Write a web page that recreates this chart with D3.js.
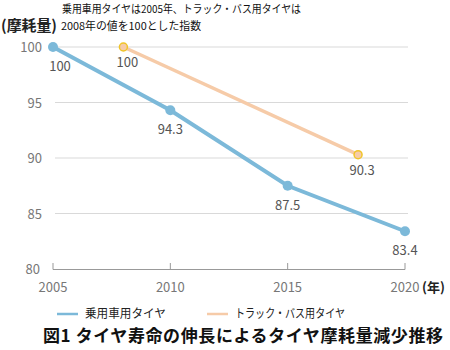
<!DOCTYPE html>
<html><head><meta charset="utf-8">
<script src="https://cdn.jsdelivr.net/npm/d3@7"></script>
<style>body{margin:0;background:#fff;} text{font-family:"Noto Sans CJK JP","Noto Sans",sans-serif;}</style>
</head><body>
<svg id="c" width="450" height="350"></svg>
<script>
const carYears = [2005, 2010, 2015, 2020];
const carValues = [100, 94.3, 87.5, 83.4];
const truckYears = [2008, 2018];
const truckValues = [100, 90.3];
const yTicks = [80, 85, 90, 95, 100];
const xTicks = [2005, 2010, 2015, 2020];
const seriesNames = ["乗用車用タイヤ", "トラック・バス用タイヤ"];

const svg = d3.select("#c");
const x = d3.scaleLinear().domain([2005, 2020]).range([53, 405]);
const y = d3.scaleLinear().domain([80, 100]).range([269, 47]);

// gridlines
svg.append("g").selectAll("line").data(yTicks.filter(d => d > 80)).join("line")
  .attr("x1", 55).attr("x2", 408).attr("y1", d => y(d)).attr("y2", d => y(d))
  .attr("stroke", "#d9d9d9").attr("stroke-width", 1);
// y labels
svg.append("g").selectAll("text").data(yTicks).join("text")
  .attr("x", d => d === 80 ? 40 : 42).attr("y", d => y(d) + 5).attr("text-anchor", "end")
  .attr("font-size", 13).attr("fill", "#777").attr("font-family", "Open Sans, sans-serif")
  .text(d => d);
// x axis
svg.append("line").attr("x1", x(2005)).attr("x2", x(2020)).attr("y1", 269.5).attr("y2", 269.5)
  .attr("stroke", "#999").attr("stroke-width", 1);
svg.append("g").selectAll("line").data(xTicks).join("line")
  .attr("x1", d => x(d)).attr("x2", d => x(d)).attr("y1", 263).attr("y2", 269.5)
  .attr("stroke", "#999");
svg.append("g").selectAll("text").data(xTicks).join("text")
  .attr("x", d => x(d)).attr("y", 292).attr("text-anchor", "middle")
  .attr("font-size", 13).attr("fill", "#777").attr("font-family", "Open Sans, sans-serif")
  .text(d => d);
svg.append("text").attr("x", 422).attr("y", 292).attr("font-size", 13).attr("fill", "#222")
  .attr("font-weight", "bold").text("(年)");

const line = d3.line().x(d => x(d[0])).y(d => y(d[1]));
const car = carYears.map((d, i) => [d, carValues[i]]);
const truck = truckYears.map((d, i) => [d, truckValues[i]]);

svg.append("path").datum(truck).attr("d", line).attr("fill", "none")
  .attr("stroke", "#f6cba8").attr("stroke-width", 3.5);
svg.append("g").selectAll("circle").data(truck).join("circle")
  .attr("cx", d => x(d[0])).attr("cy", d => y(d[1])).attr("r", 4)
  .attr("fill", "#f6cba8").attr("stroke", "#f0c428").attr("stroke-width", 1.5);

svg.append("path").datum(car).attr("d", line).attr("fill", "none")
  .attr("stroke", "#7cb9d9").attr("stroke-width", 4);
svg.append("g").selectAll("circle").data(car).join("circle")
  .attr("cx", d => x(d[0])).attr("cy", d => y(d[1])).attr("r", 5)
  .attr("fill", "#7cb9d9");

// data labels
const carLabelDx = [7, 0, 0, 0];
svg.append("g").selectAll("text").data(car).join("text")
  .attr("x", (d, i) => x(d[0]) + carLabelDx[i]).attr("y", d => y(d[1]) + 24)
  .attr("text-anchor", "middle").attr("font-size", 13).attr("fill", "#555")
  .attr("font-family", "Open Sans, sans-serif").text(d => d[1]);
svg.append("g").selectAll("text").data(truck).join("text")
  .attr("x", d => x(d[0]) + 4).attr("y", d => y(d[1]) + 20)
  .attr("text-anchor", "middle").attr("font-size", 13).attr("fill", "#555")
  .attr("font-family", "Open Sans, sans-serif").text(d => d[1]);

// titles
svg.append("text").attr("x", 62).attr("y", 13).attr("font-size", 11).attr("fill", "#111")
  .attr("textLength", 239).attr("lengthAdjust", "spacingAndGlyphs")
  .text("乗用車用タイヤは2005年、トラック・バス用タイヤは");
svg.append("text").attr("x", 61).attr("y", 30).attr("font-size", 11).attr("fill", "#111")
  .attr("textLength", 140).attr("lengthAdjust", "spacingAndGlyphs")
  .text("2008年の値を100とした指数");
svg.append("text").attr("x", 1).attr("y", 31).attr("font-size", 15).attr("fill", "#222")
  .attr("font-weight", "bold").attr("textLength", 56).attr("lengthAdjust", "spacingAndGlyphs")
  .text("(摩耗量)");

// legend
const legColors = ["#7cb9d9", "#f6cba8"];
const legX = [57, 207];
const legLen = [81, 110];
seriesNames.forEach((n, i) => {
  svg.append("line").attr("x1", legX[i]).attr("x2", legX[i] + 21).attr("y1", 314).attr("y2", 314)
    .attr("stroke", legColors[i]).attr("stroke-width", 2.5);
  svg.append("text").attr("x", legX[i] + 28).attr("y", 318).attr("font-size", 12).attr("fill", "#222")
    .attr("textLength", legLen[i]).attr("lengthAdjust", "spacingAndGlyphs")
    .text(n);
});

svg.append("text").attr("x", 43).attr("y", 342).attr("font-size", 17).attr("fill", "#111")
  .attr("font-weight", "bold").attr("textLength", 400).attr("lengthAdjust", "spacing")
  .text("図1 タイヤ寿命の伸長によるタイヤ摩耗量減少推移");
</script>
</body></html>
